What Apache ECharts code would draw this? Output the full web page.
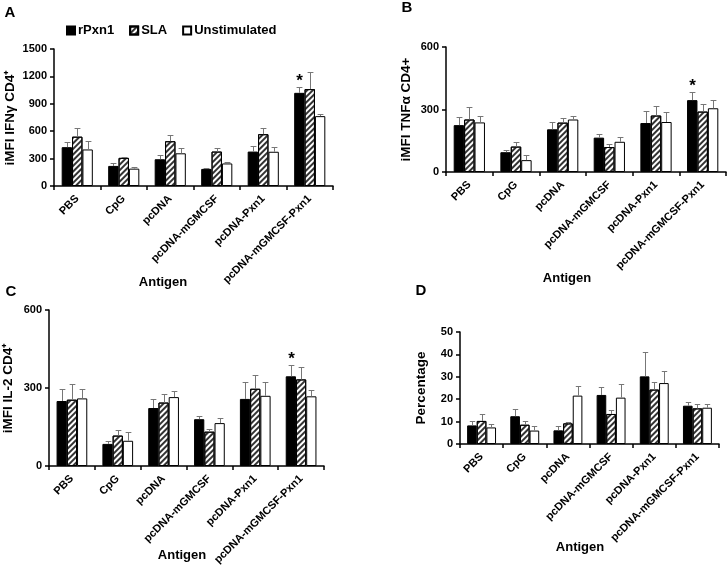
<!DOCTYPE html>
<html><head><meta charset="utf-8">
<script src="https://cdn.jsdelivr.net/npm/echarts@6/dist/echarts.min.js"></script>
<style>html,body{margin:0;padding:0;background:#fff}#c{width:728px;height:570px}</style>
</head><body><div id="c"></div>
<script>
const categories = ['PBS','CpG','pcDNA','pcDNA-mGMCSF','pcDNA-Pxn1','pcDNA-mGMCSF-Pxn1'];
const seriesNames = ['rPxn1','SLA','Unstimulated'];

// Panel A: iMFI IFNγ CD4+
const A_rPxn1 = [425, 220, 293, 187, 377, 1020];
const A_rPxn1_sd = [54, 29, 51, 14, 66, 59];
const A_SLA = [540, 308, 490, 377, 567, 1061];
const A_SLA_sd = [93, 14, 73, 44, 66, 183];
const A_Unstim = [400, 190, 358, 247, 375, 765];
const A_Unstim_sd = [98, 22, 55, 16, 49, 25];
const A_ticks = [0, 1500, 300];

// Panel B: iMFI TNFα CD4+
const B_rPxn1 = [225, 95, 205, 165, 235, 345];
const B_rPxn1_sd = [40, 13, 36, 17, 58, 39];
const B_SLA = [252, 122, 237, 120, 271, 290];
const B_SLA_sd = [58, 20, 20, 14, 46, 38];
const B_Unstim = [238, 57, 252, 145, 240, 306];
const B_Unstim_sd = [31, 23, 17, 22, 48, 38];
const B_ticks = [0, 600, 300];

// Panel C: iMFI IL-2 CD4+
const C_rPxn1 = [250, 85, 223, 180, 258, 345];
const C_rPxn1_sd = [45, 11, 36, 11, 64, 42];
const C_SLA = [255, 117, 244, 132, 297, 333];
const C_SLA_sd = [59, 21, 33, 10, 52, 46];
const C_Unstim = [260, 97, 265, 165, 270, 268];
const C_Unstim_sd = [37, 35, 22, 21, 52, 24];
const C_ticks = [0, 600, 300];

// Panel D: Percentage
const D_rPxn1 = [8.3, 12.4, 6.1, 21.9, 30.2, 17.1];
const D_rPxn1_sd = [2.0, 3.2, 2.1, 3.7, 10.7, 1.5];
const D_SLA = [10.3, 8.6, 9.2, 13.4, 24.3, 15.9];
const D_SLA_sd = [3.2, 1.7, 0.8, 1.9, 3.2, 2.1];
const D_Unstim = [7.4, 6.0, 21.6, 20.7, 27.2, 16.2];
const D_Unstim_sd = [1.5, 2.2, 4.3, 6.2, 5.5, 1.8];
const D_ticks = [0, 50, 10];

// significance marks (rPxn1 series)
const A_sig = [0, 0, 0, 0, 0, 1];
const B_sig = [0, 0, 0, 0, 0, 1];
const C_sig = [0, 0, 0, 0, 0, 1];
const D_sig = [0, 0, 0, 0, 0, 0];

const yTitles = ['iMFI IFNγ CD4⁺', 'iMFI TNFα CD4+', 'iMFI IL-2 CD4⁺', 'Percentage'];

const FONT = 'Arial, "Liberation Sans", sans-serif';
const GAP = 0.33;

const panels = [
  {vals:[A_rPxn1,A_SLA,A_Unstim], sds:[A_rPxn1_sd,A_SLA_sd,A_Unstim_sd], sig:A_sig, ticks:A_ticks,
   grid:{left:54, top:49, width:279, height:137}, nameGap:37},
  {vals:[B_rPxn1,B_SLA,B_Unstim], sds:[B_rPxn1_sd,B_SLA_sd,B_Unstim_sd], sig:B_sig, ticks:B_ticks,
   grid:{left:446, top:47, width:280, height:125}, nameGap:33},
  {vals:[C_rPxn1,C_SLA,C_Unstim], sds:[C_rPxn1_sd,C_SLA_sd,C_Unstim_sd], sig:C_sig, ticks:C_ticks,
   grid:{left:47, top:310, width:277, height:156}, nameGap:34},
  {vals:[D_rPxn1,D_SLA,D_Unstim], sds:[D_rPxn1_sd,D_SLA_sd,D_Unstim_sd], sig:D_sig, ticks:D_ticks,
   grid:{left:460, top:332, width:259, height:112}, nameGap:32}
];

const barStyles = [
  {color:'#000', borderColor:'#000', borderWidth:1},
  {color:'#fff', borderColor:'#000', borderWidth:1,
   decal:{symbol:'rect', symbolSize:1, color:'#333', dashArrayX:[1,0], dashArrayY:[2,1.5], rotation:-Math.PI/4}},
  {color:'#fff', borderColor:'#000', borderWidth:1}
];

const grids = [], xAxes = [], yAxes = [], series = [];
panels.forEach((p, gi) => {
  grids.push(Object.assign({containLabel:false}, p.grid));
  xAxes.push({
    gridIndex:gi, type:'category', data:categories,
    axisLine:{lineStyle:{color:'#000', width:1.5}},
    axisTick:{show:true, length:4, lineStyle:{color:'#000', width:1.5}},
    axisLabel:{rotate:45, interval:0, fontSize:11, fontWeight:'bold', color:'#000', fontFamily:FONT, margin:11}
  });
  yAxes.push({
    gridIndex:gi, type:'value', min:p.ticks[0], max:p.ticks[1], interval:p.ticks[2],
    axisLine:{show:true, lineStyle:{color:'#000', width:1.5}},
    axisTick:{show:true, length:4, lineStyle:{color:'#000', width:1.5}},
    splitLine:{show:false},
    axisLabel:{fontSize:11, fontWeight:'bold', color:'#000', fontFamily:FONT, margin:7, formatter:v => String(v)},
    name:yTitles[gi], nameLocation:'middle', nameRotate:90, nameGap:p.nameGap,
    nameTextStyle:{fontSize:13.5, fontWeight:'bold', color:'#000', fontFamily:FONT}
  });
  for (let s = 0; s < 3; s++) {
    series.push({
      type:'bar', name:seriesNames[s], xAxisIndex:gi, yAxisIndex:gi,
      data:p.vals[s], barGap:'0%', barCategoryGap:(GAP*100)+'%',
      itemStyle:barStyles[s], emphasis:{disabled:true}
    });
  }
  const data = [];
  for (let s = 0; s < 3; s++) for (let c = 0; c < 6; c++)
    data.push([c, s, p.vals[s][c], p.sds[s][c], s === 0 ? p.sig[c] : 0]);
  series.push({
    type:'custom', xAxisIndex:gi, yAxisIndex:gi, z:3, silent:true,
    data:data, encode:{x:0, y:2},
    renderItem:function(params, api){
      const c = api.value(0), s = api.value(1), v = api.value(2), sd = api.value(3), sg = api.value(4);
      const band = api.size([1, 0])[0];
      const bw = band * (1 - GAP) / 3;
      const p0 = api.coord([c, v]);
      const p1 = api.coord([c, v + sd]);
      const x = Math.round(p0[0] + (s - 1) * bw) + 0.5;
      const cap = bw * 0.28;
      const y1 = Math.round(p1[1]) + 0.5;
      const children = [
        {type:'line', shape:{x1:x, y1:p0[1], x2:x, y2:y1}, style:{stroke:'#777', lineWidth:1}},
        {type:'line', shape:{x1:x - cap, y1:y1, x2:x + cap, y2:y1}, style:{stroke:'#777', lineWidth:1}}
      ];
      if (sg) children.push({type:'text', x:x, y:y1 - 6, style:{text:'*', font:'bold 17px ' + FONT, textAlign:'center', textVerticalAlign:'middle', fill:'#000'}});
      return {type:'group', children:children};
    }
  });
});

const txt = (t, x, y, size) => ({type:'text', x:x, y:y, style:{text:t, font:'bold ' + size + 'px ' + FONT, fill:'#000', textAlign:'center', textVerticalAlign:'middle'}});

const chart = echarts.init(document.getElementById('c'), null, {renderer:'canvas'});
chart.setOption({
  animation:false,
  backgroundColor:'#fff',
  legend:{
    data:seriesNames, left:61, top:19, icon:'rect', itemWidth:8, itemHeight:8, itemGap:15,
    textStyle:{fontSize:13, fontWeight:'bold', color:'#000', fontFamily:FONT, padding:[0,0,0,-2]},
    selectedMode:false
  },
  grid:grids, xAxis:xAxes, yAxis:yAxes, series:series,
  graphic:[
    txt('A', 10, 13, 15), txt('B', 407, 8, 15), txt('C', 11, 292, 15), txt('D', 421, 291, 15),
    txt('Antigen', 163, 282, 13), txt('Antigen', 567, 278, 13),
    txt('Antigen', 182, 555, 13), txt('Antigen', 580, 547, 13)
  ]
});
</script></body></html>
